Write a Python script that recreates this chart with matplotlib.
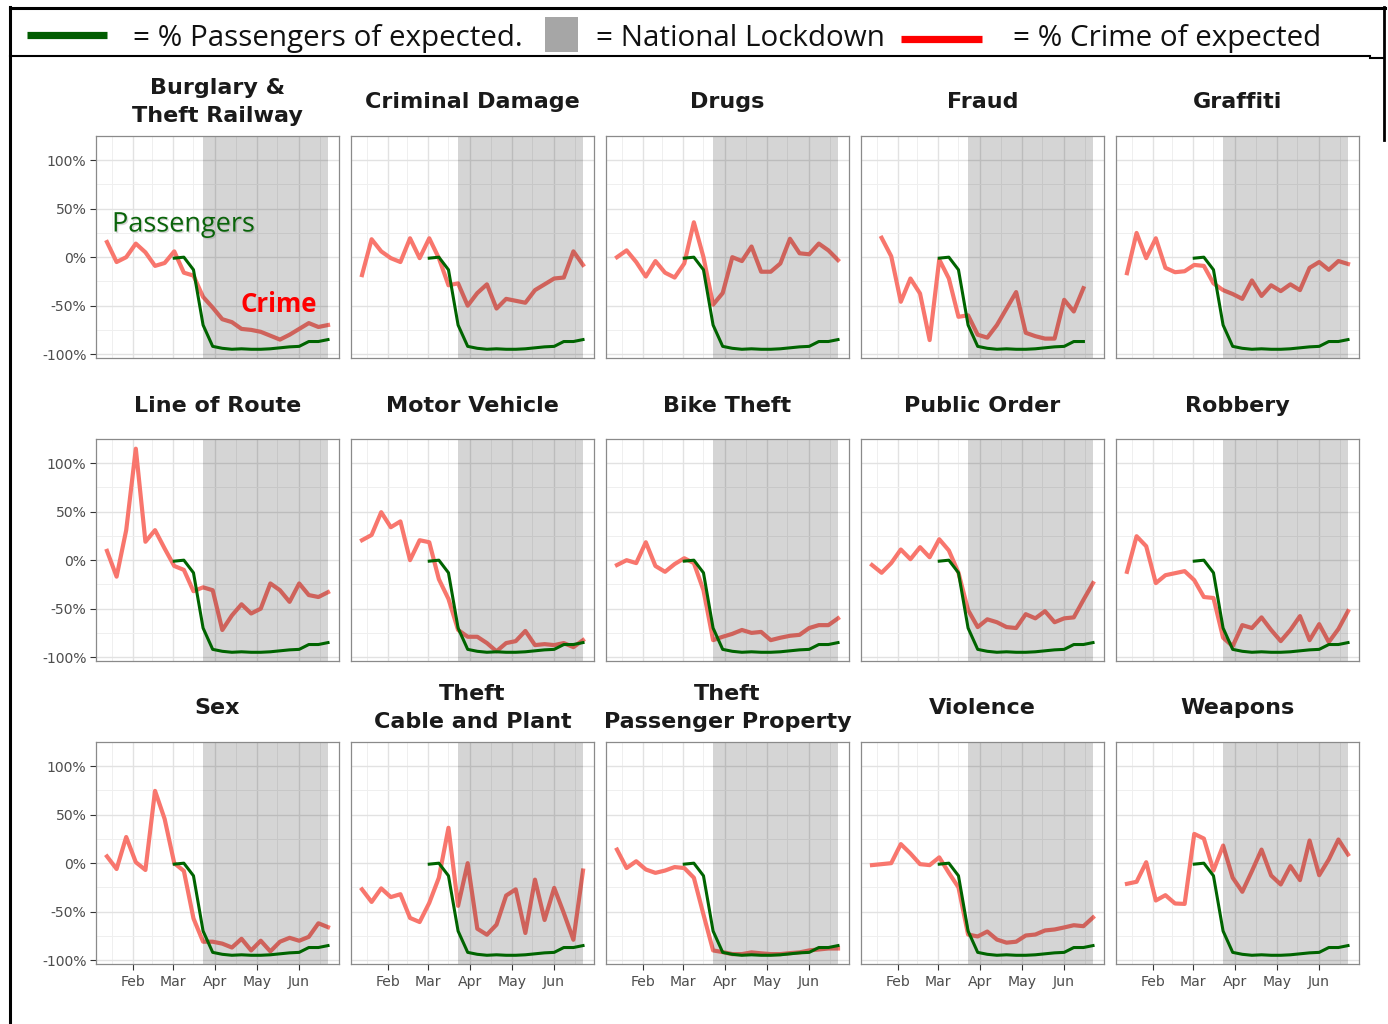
import numpy as np
import matplotlib
matplotlib.use("Agg")
import matplotlib.pyplot as plt
import matplotlib.dates as mdates
from matplotlib.lines import Line2D
from matplotlib.patches import Rectangle
import matplotlib.patheffects as pe

# ---------------- data ----------------
titles = ["Burglary &\nTheft Railway", "Criminal Damage", "Drugs", "Fraud", "Graffiti",
          "Line of Route", "Motor Vehicle", "Bike Theft", "Public Order", "Robbery",
          "Sex", "Theft\nCable and Plant", "Theft\nPassenger Property", "Violence", "Weapons"]

crime_start = "2020-01-13"
fraud_start = "2020-01-20"
passenger_start = "2020-03-02"
lockdown_start = "2020-03-23"
lockdown_end = "2020-06-22"

passengers = [-1, 0, -13, -70, -92, -94, -95, -94.5, -95, -95, -94.5, -93.5, -92.5, -92, -87, -87, -85]

burglary = [15.6, -5, 0, 14, 5, -9, -6, 6, -16, -19, -41, -52, -64, -67, -74, -75, -77, -81, -85, -80, -74, -68, -72, -70]
criminal_damage = [-18.5, 18.5, 6, -1, -5, 19.5, -1, 19.5, -1, -29, -27, -50, -37, -28, -53, -43, -45, -47, -34, -28, -22, -21, 6, -8]
drugs = [0, 7, -5, -20, -4, -16, -21, -6.5, 36, 0, -49, -37, 0, -4, 11, -15, -15, -6.5, 19, 4, 3, 14, 7, -3]
fraud = [20, 1, -46, -22, -37.5, -85.5, -2.4, -22, -61.5, -60, -80, -83, -70, -53, -36, -78, -81.5, -84, -84, -44, -56, -32]
graffiti = [-16.5, 25, -1, 19.5, -11, -15.5, -14.5, -8, -9, -27, -34, -38, -43, -24, -40, -29, -35, -28, -34, -11, -5, -13, -4, -7]
line_of_route = [9.6, -17, 31, 115, 19, 31, 12, -6, -10, -32, -28, -31, -72, -57, -45.5, -55, -50, -24, -31, -43, -24, -36, -38, -33]
motor_vehicle = [20.6, 26, 49.5, 34, 40, 0, 20.6, 18.5, -19.6, -40, -72, -79, -79, -85.5, -94, -85.5, -83.5, -73, -87.6, -86.6, -87.6, -85.5, -89.7, -82.5]
bike_theft = [-5, 0, -3, 18.5, -6, -12, -4, 2, -3, -31, -82.5, -79, -76, -72, -75, -74, -82.5, -80, -78, -77, -70, -67, -67, -60]
public_order = [-5, -13, -3, 11, 1, 13.4, 3, 21.6, 10, -13, -51.5, -69, -61, -64, -69, -70, -55.7, -60, -52.6, -64, -60, -59, -41, -23.7]
robbery = [-12, 24.7, 14.4, -23.7, -15.5, -13.4, -11.3, -20.6, -38, -39, -80, -88.7, -67, -70, -59, -72, -83.5, -72, -57.7, -82.5, -66, -84.5, -71, -52.6]
sex = [7, -6, 27, 1, -7, 74.6, 45.6, 0, -8, -57, -81, -81, -83, -87, -78, -90, -80, -91, -81, -77, -80, -76, -62, -66]
cable_plant = [-27, -40, -26, -35, -32, -56.5, -60.7, -41, -15, 36.5, -44, 0, -67.6, -73.8, -63.4, -33.4, -27, -72, -17, -58.6, -25.5, -51.4, -79, -7.6]
passenger_property = [14, -5, 2, -6.5, -10, -7.6, -4, -5, -15, -53, -90, -91.7, -93.8, -93.8, -92, -93, -93.8, -93.8, -92.8, -92, -90, -89, -88, -88]
violence = [-2, -1, 0, 19.7, 10, -1, -2, 6, -10, -25, -73.6, -75.6, -70.5, -78.8, -82, -81, -74.6, -73.6, -69.4, -68.4, -66.3, -64, -65, -56]
weapons = [-21.3, -19.2, 1, -38.5, -33, -41.6, -42, 30.2, 25.4, -7.6, 18.2, -15, -29.5, -8.2, 14, -12.7, -22, -3, -17.5, 23.4, -12.4, 3.8, 24.4, 9]

crime_series = [burglary, criminal_damage, drugs, fraud, graffiti,
                line_of_route, motor_vehicle, bike_theft, public_order, robbery,
                sex, cable_plant, passenger_property, violence, weapons]
crime_starts = [crime_start] * 15
crime_starts[3] = fraud_start

month_ticks = ["2020-02-01", "2020-03-01", "2020-04-01", "2020-05-01", "2020-06-01"]
month_labels = ["Feb", "Mar", "Apr", "May", "Jun"]
x_minor = ["2020-01-17", "2020-02-15", "2020-03-16", "2020-04-16", "2020-05-16", "2020-06-16"]
y_ticks = [-100, -50, 0, 50, 100]
y_labels = ["-100%", "-50%", "0%", "50%", "100%"]
y_minor = [-75, -25, 25, 75, 125]

legend_texts = ["= % Passengers of expected.", "= National Lockdown", "= % Crime of expected"]

# ---------------- style ----------------
CRIME_COL = "#F8766D"
PASS_COL = "#006400"
W, H = 1388, 1024
fig = plt.figure(figsize=(W / 100, H / 100), dpi=100)

def fx(px):
    return px / W

def fy(py):
    return 1 - py / H

col_left = [96, 351, 606, 861, 1116]
row_top = [136, 439, 742]
pw, ph = 243, 222

def weekly(start, n):
    return np.datetime64(start) + np.arange(n) * np.timedelta64(7, "D")

xlim = (mdates.date2num(np.datetime64("2020-01-05")), mdates.date2num(np.datetime64("2020-06-30")))

for i, (title, series, cstart) in enumerate(zip(titles, crime_series, crime_starts)):
    r, c = divmod(i, 5)
    ax = fig.add_axes([fx(col_left[c]), fy(row_top[r] + ph), pw / W, ph / H])
    ax.set_facecolor("white")
    cd = weekly(cstart, len(series))
    npass = len(passengers)
    if i == 3:
        npass = len(passengers) - 1
    pdts = weekly(passenger_start, npass)

    ax.plot(cd, series, color=CRIME_COL, lw=3.0, zorder=2, solid_joinstyle="round")
    ax.axvspan(np.datetime64(lockdown_start), np.datetime64(lockdown_end),
               color="black", alpha=0.165, lw=0, zorder=3)
    ax.plot(pdts, passengers[:npass], color=PASS_COL, lw=2.2, zorder=4, solid_joinstyle="round")

    ax.set_xlim(*xlim)
    ax.set_ylim(-104, 125)
    ax.set_xticks([mdates.date2num(np.datetime64(d)) for d in month_ticks])
    ax.set_xticks([mdates.date2num(np.datetime64(d)) for d in x_minor], minor=True)
    ax.set_yticks(y_ticks)
    ax.set_yticks(y_minor, minor=True)
    ax.grid(which="major", color="#e2e2e2", lw=1.0, zorder=0)
    ax.grid(which="minor", color="#efefef", lw=0.7, zorder=0)
    ax.set_axisbelow(True)
    for s in ax.spines.values():
        s.set_color("#8a8a8a")
        s.set_linewidth(0.9)
        s.set_zorder(6)
    ax.tick_params(which="minor", length=0)
    ax.tick_params(which="major", length=4.3, width=0.8, color="#333333",
                   labelcolor="#4d4d4d", labelsize=10.1, pad=2.5)
    if c == 0:
        ax.set_yticklabels(y_labels)
    else:
        ax.tick_params(axis="y", which="major", length=0, labelleft=False)
    if r == 2:
        ax.set_xticklabels(month_labels)
        ax.tick_params(axis="x", which="major", pad=3.5)
    else:
        ax.tick_params(axis="x", which="major", length=0, labelbottom=False)

    ax.text(0.5, 1 + 33.5 / ph, title, transform=ax.transAxes, ha="center", va="center",
            fontsize=16, fontweight="bold", color="#1a1a1a", family="DejaVu Sans",
            linespacing=1.5)

    if i == 0:
        ax.text((112 - 96) / pw, 1 - (231.5 - 136) / ph, "Passengers",
                transform=ax.transAxes, ha="left", va="baseline", fontsize=19.5,
                color="#0a640a", family="Open Sans", zorder=8,
                path_effects=[pe.withSimplePatchShadow(offset=(1, -1), shadow_rgbFace="#9a9a9a", alpha=0.4)])
        ax.text((241 - 96) / pw, 1 - (311.5 - 136) / ph, "Crime",
                transform=ax.transAxes, ha="left", va="baseline", fontsize=18.5,
                color="#ff0000", family="Open Sans", fontweight="bold", zorder=8)

# ---------------- legend header & frame ----------------
fig.add_artist(Line2D([fx(27), fx(107)], [fy(35), fy(35)], color="#005c00", lw=5.2,
                      solid_capstyle="butt"))
fig.add_artist(Rectangle((fx(545), fy(52)), 33 / W, 35 / H, transform=fig.transFigure,
                         facecolor="#a6a6a6", edgecolor="none"))
fig.add_artist(Line2D([fx(901), fx(982)], [fy(39), fy(39)], color="#ff0000", lw=5.2,
                      solid_capstyle="butt"))
for xpos, txt in zip([133, 596, 1013], legend_texts):
    fig.text(fx(xpos), fy(46), txt, ha="left", va="baseline", fontsize=21.3,
             family="Open Sans", color="#111111")

fig.add_artist(Line2D([fx(10), fx(1385)], [fy(8), fy(8)], color="black", lw=2.2))
fig.add_artist(Line2D([fx(10), fx(10)], [fy(7), fy(1024)], color="black", lw=2.2))
fig.add_artist(Line2D([fx(1384), fx(1384)], [fy(7), fy(140)], color="black", lw=2.0))
fig.add_artist(Line2D([fx(10), fx(1370)], [fy(56), fy(56)], color="black", lw=1.5))
fig.add_artist(Line2D([fx(1370), fx(1384)], [fy(57.5), fy(57.5)], color="black", lw=1.5))

fig.savefig("out.png", dpi=100, facecolor="white")
